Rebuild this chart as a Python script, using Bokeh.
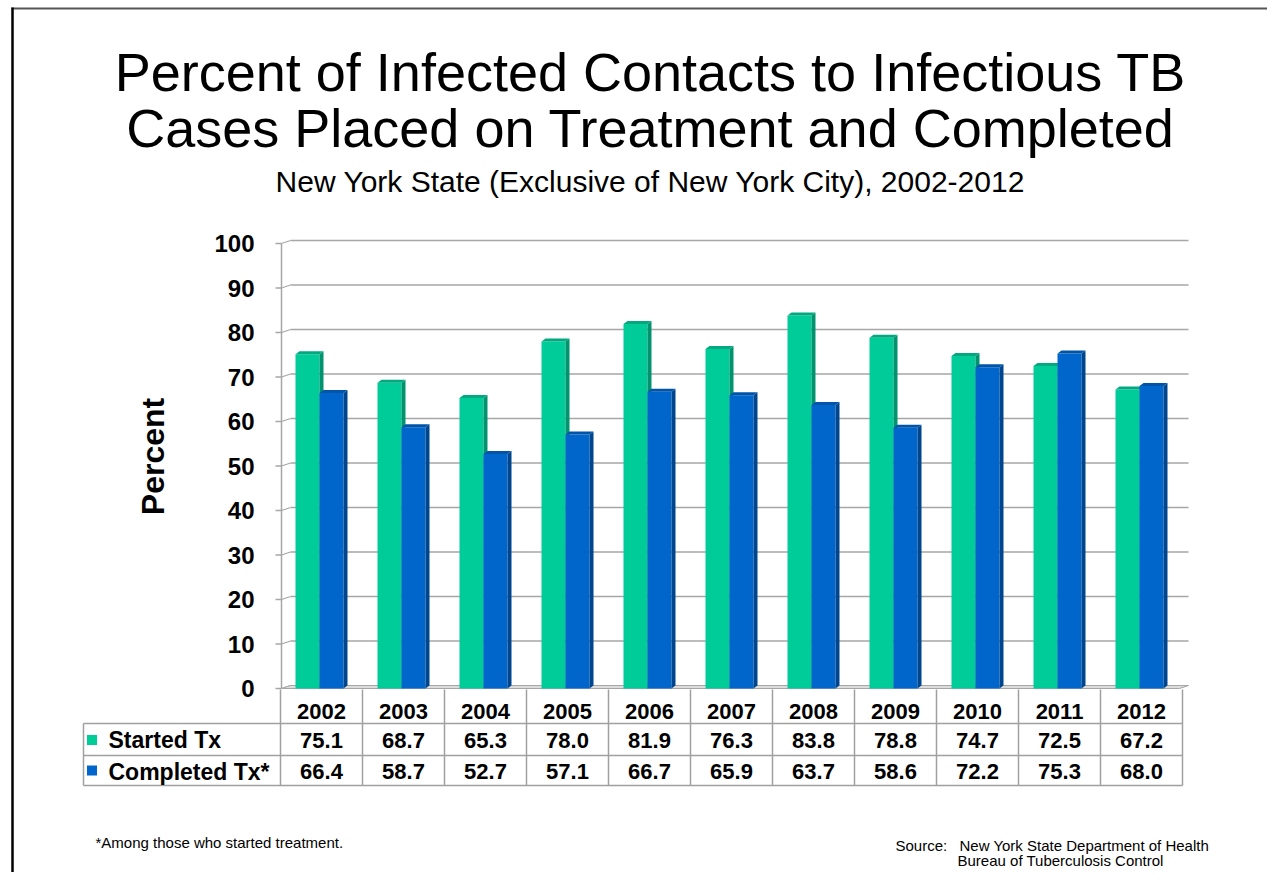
import math
from bokeh.plotting import figure
from bokeh.models import Range1d, Label, ColumnDataSource
from bokeh.core.properties import value
from bokeh.embed import file_html
from bokeh.resources import INLINE

# ---------------- data ----------------
years = ["2002", "2003", "2004", "2005", "2006", "2007", "2008", "2009", "2010", "2011", "2012"]
started = [75.1, 68.7, 65.3, 78.0, 81.9, 76.3, 83.8, 78.8, 74.7, 72.5, 67.2]
completed = [66.4, 58.7, 52.7, 57.1, 66.7, 65.9, 63.7, 58.6, 72.2, 75.3, 68.0]
series_names = ["Started Tx", "Completed Tx*"]
y_ticks = [0, 10, 20, 30, 40, 50, 60, 70, 80, 90, 100]

title_lines = ["Percent of Infected Contacts to Infectious TB",
               "Cases Placed on Treatment and Completed"]
subtitle = "New York State (Exclusive of New York City), 2002-2012"
y_label = "Percent"
footnote = "*Among those who started treatment."
source_label = "Source:"
source_lines = ["New York State Department of Health", "Bureau of Tuberculosis Control"]

# ---------------- style ----------------
FONT = "Liberation Sans"
GREEN = ["#00CC99", "#00936E", "#00A980"]   # front, side, top
BLUE = ["#0066CC", "#00468F", "#0055AA"]
GRID = "#A6A6A6"
TABLE = "#A0A0A0"

W, H = 1267, 872
X0 = 321.0   # px of first category centre
CAT = 82.0   # px per category
Y0 = 688.0   # px of 0 %
PCT = 4.45   # px per percent


def X(px):
    return (px - X0) / CAT


def Y(py):
    return (Y0 - py) / PCT


p = figure(width=W, height=H, title=None, toolbar_location=None, output_backend="svg",
           x_range=Range1d(X(0), X(W)), y_range=Range1d(Y(H), Y(0)),
           min_border=0, x_axis_location=None, y_axis_location=None)
p.xgrid.visible = False
p.ygrid.visible = False
p.outline_line_color = None
p.background_fill_color = "white"
p.border_fill_color = "white"

n = len(years)
xs = list(range(n))
bw = 24 / CAT
dx = 4 / CAT
dy = 3 / PCT

# slide border (top and left)
p.segment(x0=[X(11)], y0=[Y(8)], x1=[X(W)], y1=[Y(8)], line_color="#555555", line_width=2.2)
p.segment(x0=[X(12)], y0=[Y(7)], x1=[X(12)], y1=[Y(H)], line_color="#000000", line_width=2.5)

# back wall gridlines & axis
ax_x = X(281)
wall_l = X(290)
wall_r = X(1188)
p.segment(x0=[wall_l] * len(y_ticks[1:]), y0=[v + dy for v in y_ticks[1:]],
          x1=[wall_r] * len(y_ticks[1:]), y1=[v + dy for v in y_ticks[1:]],
          line_color=GRID, line_width=1.5)
p.segment(x0=[ax_x] * len(y_ticks), y0=y_ticks, x1=[wall_l] * len(y_ticks), y1=[v + dy for v in y_ticks],
          line_color=GRID, line_width=1.2)
p.segment(x0=[X(275)] * len(y_ticks), y0=y_ticks, x1=[ax_x] * len(y_ticks), y1=y_ticks,
          line_color=GRID, line_width=1.5)
p.segment(x0=[ax_x], y0=[y_ticks[0]], x1=[ax_x], y1=[y_ticks[-1]], line_color=GRID, line_width=1.5)
# floor
p.patch(x=[ax_x, wall_l, wall_r, wall_r - (wall_l - ax_x)], y=[0, dy, dy, 0],
        fill_color="#DCDCDC", line_color=GRID, line_width=1)

# tick labels
p.text(x=[X(254)] * len(y_ticks), y=y_ticks, text=[str(v) for v in y_ticks],
       text_font=value(FONT), text_font_size="24px", text_font_style="bold",
       text_align="right", text_baseline="middle", text_color="black")


def bars3d(vals, offset_px, cols):
    cx = [i + offset_px / CAT for i in xs]
    p.vbar(x=cx, top=vals, bottom=0, width=bw, fill_color=cols[0], line_color=None)
    side_x, side_y, top_x, top_y = [], [], [], []
    for c, v in zip(cx, vals):
        x0, x1 = c - bw / 2, c + bw / 2
        side_x.append([x1, x1 + dx, x1 + dx, x1])
        side_y.append([0, dy, v + dy, v])
        top_x.append([x0, x1, x1 + dx, x0 + dx])
        top_y.append([v, v, v + dy, v + dy])
    p.patches(xs=side_x, ys=side_y, fill_color=cols[1], line_color=None)
    p.patches(xs=top_x, ys=top_y, fill_color=cols[2], line_color=None)


bars3d(started, -14, GREEN)
bars3d(completed, 10, BLUE)

# ---------------- data table ----------------
t_top, r1, r2, t_bot = 689, 723, 755, 785
left = X(83)
borders = [i - 0.5 for i in range(n + 1)]
p.segment(x0=[left, left, left], y0=[Y(r1), Y(r2), Y(t_bot)],
          x1=[borders[-1]] * 3, y1=[Y(r1), Y(r2), Y(t_bot)], line_color=TABLE, line_width=1.5)
p.segment(x0=borders, y0=[Y(t_top)] * len(borders), x1=borders, y1=[Y(t_bot)] * len(borders),
          line_color=TABLE, line_width=1.5)
p.segment(x0=[left], y0=[Y(r1)], x1=[left], y1=[Y(t_bot)], line_color=TABLE, line_width=1.5)

tsrc = ColumnDataSource(dict(x=xs, years=years,
                             s=[f"{v:.1f}" for v in started],
                             c=[f"{v:.1f}" for v in completed]))
common = dict(text_font=value(FONT), text_font_size="22px", text_font_style="bold",
              text_align="center", text_baseline="middle", text_color="black")
p.text(x="x", y=Y(710.5), text="years", source=tsrc, **common)
p.text(x="x", y=Y(739.5), text="s", source=tsrc, **common)
p.text(x="x", y=Y(771), text="c", source=tsrc, **common)

# legend keys in table
p.scatter(x=[X(91.5), X(91.5)], y=[Y(739.5), Y(770)], marker="square", size=10,
          fill_color=[GREEN[0], BLUE[0]], line_color=None)
p.text(x=[X(108), X(108)], y=[Y(739.5), Y(771)], text=series_names,
       text_font=value(FONT), text_font_size="23px", text_font_style="bold",
       text_align="left", text_baseline="middle", text_color="black")

# ---------------- titles & notes ----------------
for txt, mid in zip(title_lines, [71, 127]):
    p.add_layout(Label(x=X(650), y=Y(mid), text=txt, text_font=FONT, text_font_size="54px",
                       text_align="center", text_baseline="middle", text_color="black"))
p.add_layout(Label(x=X(650), y=Y(181), text=subtitle, text_font=FONT, text_font_size="30px",
                   text_align="center", text_baseline="middle", text_color="black"))
p.add_layout(Label(x=X(152), y=Y(456), text=y_label, text_font=FONT, text_font_size="32px",
                   text_font_style="bold", angle=math.pi / 2, text_align="center",
                   text_baseline="middle", text_color="black"))
p.add_layout(Label(x=X(95), y=Y(842), text=footnote, text_font=FONT, text_font_size="15px",
                   text_align="left", text_baseline="middle", text_color="black"))
p.add_layout(Label(x=X(895), y=Y(845), text=source_label, text_font=FONT, text_font_size="15px",
                   text_align="left", text_baseline="middle", text_color="black"))
for txt, mid, xx in zip(source_lines, [845, 860], [959, 957]):
    p.add_layout(Label(x=X(xx), y=Y(mid), text=txt, text_font=FONT, text_font_size="15px",
                       text_align="left", text_baseline="middle", text_color="black"))

open("out.html", "w").write(file_html(p, INLINE))
